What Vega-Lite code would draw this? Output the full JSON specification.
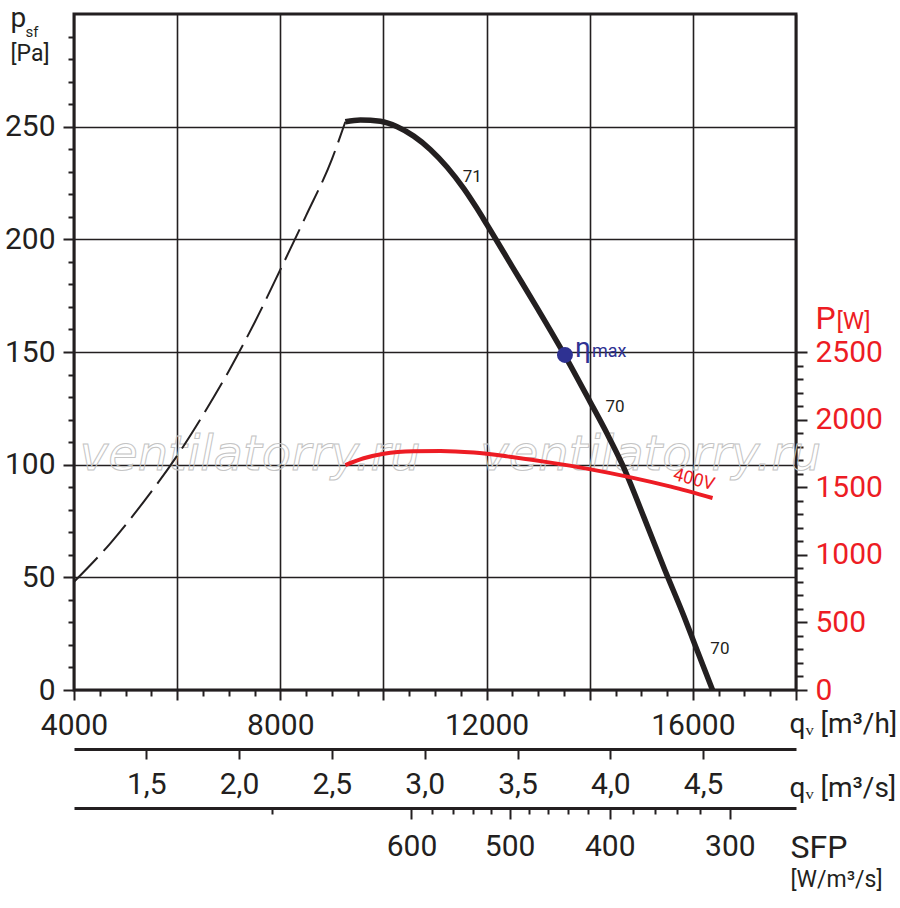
{
  "$schema": "https://vega.github.io/schema/vega-lite/v6.json",
  "description": "Fan curve: static pressure and power against air flow",
  "width": 722,
  "height": 676,
  "autosize": {"type": "none"},
  "padding": {"left": 74, "top": 14, "right": 104, "bottom": 218},
  "background": "white",
  "config": {
    "font": "Roboto",
    "view": {"stroke": "#231f20", "strokeWidth": 3},
    "axis": {
      "labelFont": "Roboto",
      "labelFontSize": 30,
      "labelColor": "#231f20",
      "labelFlush": false,
      "labelOverlap": false,
      "tickColor": "#231f20",
      "tickWidth": 2,
      "domain": false,
      "domainColor": "#231f20",
      "domainWidth": 3,
      "grid": false,
      "gridColor": "#231f20",
      "gridWidth": 1.6,
      "gridOpacity": 1,
      "titleFont": "Roboto",
      "titleFontWeight": "normal",
      "titleColor": "#231f20",
      "titleAngle": 0,
      "titleAlign": "left",
      "titleBaseline": "alphabetic",
      "titlePadding": 0
    }
  },
  "datasets": {
    "dashed": [
      {"q": 4000, "p": 48},
      {"q": 4700, "p": 65},
      {"q": 5350, "p": 83.5},
      {"q": 6000, "p": 104},
      {"q": 6500, "p": 122},
      {"q": 7000, "p": 141.5},
      {"q": 7500, "p": 163},
      {"q": 8000, "p": 186.5},
      {"q": 8500, "p": 210.5},
      {"q": 9000, "p": 235.5},
      {"q": 9262, "p": 252.2}
    ],
    "curve": [
      {"q": 9262, "p": 252.2},
      {"q": 9553, "p": 253.0},
      {"q": 9942, "p": 252.4},
      {"q": 10266, "p": 250.0},
      {"q": 10588, "p": 245.8},
      {"q": 10913, "p": 239.8},
      {"q": 11237, "p": 232.0},
      {"q": 11559, "p": 222.5},
      {"q": 11800, "p": 214.2},
      {"q": 12000, "p": 206.8},
      {"q": 12500, "p": 187.8},
      {"q": 13000, "p": 168.8},
      {"q": 13500, "p": 149.2},
      {"q": 14005, "p": 128},
      {"q": 14343, "p": 113.5},
      {"q": 14634, "p": 100},
      {"q": 15054, "p": 76.5},
      {"q": 15443, "p": 54},
      {"q": 15831, "p": 32.5},
      {"q": 16025, "p": 21},
      {"q": 16382, "p": 0}
    ],
    "power": [
      {"q": 9262, "P": 1664},
      {"q": 9617, "P": 1714},
      {"q": 10006, "P": 1748},
      {"q": 10588, "P": 1766},
      {"q": 11107, "P": 1768},
      {"q": 11754, "P": 1756},
      {"q": 12401, "P": 1728},
      {"q": 13113, "P": 1689},
      {"q": 14019, "P": 1632},
      {"q": 14796, "P": 1573},
      {"q": 15573, "P": 1504},
      {"q": 16382, "P": 1420}
    ],
    "eta": [
      {"q": 13520, "p": 148.7, "sym": "η", "sub": "max"}
    ],
    "curveLabels": [
      {"q": 11722, "p": 227.5, "t": "71"},
      {"q": 14492, "p": 125.7, "t": "70"},
      {"q": 16524, "p": 18, "t": "70"}
    ],
    "voltage": [
      {"q": 16019, "P": 1553, "t": "400V"}
    ],
    "watermark": [
      {"q": 7417, "p": 97.6, "t": "ventilatorry.ru"},
      {"q": 15184, "p": 97.6, "t": "ventilatorry.ru"}
    ]
  },
  "resolve": {
    "scale": {"y": "independent"},
    "axis": {"x": "independent", "y": "independent"}
  },
  "layer": [
    {
      "data": {"name": "watermark"},
      "mark": {
        "type": "text",
        "font": "DejaVu Sans",
        "fontStyle": "italic",
        "fontSize": 48,
        "fill": "transparent",
        "stroke": "#c4c4c4",
        "strokeWidth": 1,
        "align": "center",
        "baseline": "alphabetic"
      },
      "encoding": {
        "x": {"field": "q", "type": "quantitative", "scale": {"domain": [4000, 18000], "nice": false, "zero": false}, "axis": null},
        "y": {"field": "p", "type": "quantitative", "scale": {"domain": [0, 300], "nice": false}, "axis": null},
        "text": {"field": "t"}
      }
    },
    {
      "data": {"name": "dashed"},
      "mark": {"type": "line", "color": "#231f20", "strokeWidth": 2, "strokeDash": [34, 9], "interpolate": "monotone"},
      "encoding": {
        "x": {
          "field": "q", "type": "quantitative",
          "scale": {"domain": [4000, 18000], "nice": false, "zero": false},
          "axis": {
            "orient": "bottom",
            "values": [4000, 6000, 8000, 10000, 12000, 14000, 16000, 18000],
            "labelExpr": "datum.value % 4000 == 0 && datum.value < 18000 ? format(datum.value, 'd') : ''",
            "tickSize": 10,
            "labelPadding": 10,
            "grid": true,
            "title": "qᵥ [m³/h]",
            "titleX": 715,
            "titleY": 42,
            "titleFontSize": 28
          }
        },
        "y": {
          "field": "p", "type": "quantitative",
          "scale": {"domain": [0, 300], "nice": false},
          "axis": {
            "orient": "left",
            "values": [0, 50, 100, 150, 200, 250],
            "tickSize": 11,
            "labelPadding": 8,
            "grid": true,
            "title": "p",
            "titleX": -64,
            "titleY": 12,
            "titleFontSize": 28
          }
        }
      }
    },
    {
      "data": {"name": "curve"},
      "mark": {"type": "line", "color": "#231f20", "strokeWidth": 5.5, "interpolate": "monotone"},
      "encoding": {
        "x": {
          "field": "q", "type": "quantitative",
          "scale": {"domain": [4000, 18000], "nice": false, "zero": false},
          "axis": {
            "orient": "bottom",
            "values": [4500, 5000, 5500, 6500, 7000, 7500, 8500, 9000, 9500, 10500, 11000, 11500, 12500, 13000, 13500, 14500, 15000, 15500, 16500, 17000, 17500],
            "labels": false,
            "tickSize": 6,
            "title": null
          }
        },
        "y": {
          "field": "p", "type": "quantitative",
          "scale": {"domain": [0, 300], "nice": false},
          "axis": {
            "orient": "left",
            "values": [10, 20, 30, 40, 60, 70, 80, 90, 110, 120, 130, 140, 160, 170, 180, 190, 210, 220, 230, 240, 260, 270, 280, 290],
            "labels": false,
            "tickSize": 6,
            "title": "sf",
            "titleX": -49,
            "titleY": 22,
            "titleFontSize": 15
          }
        }
      }
    },
    {
      "data": {"name": "power"},
      "mark": {"type": "line", "color": "#ed1c24", "strokeWidth": 4, "interpolate": "monotone"},
      "encoding": {
        "x": {
          "field": "q", "type": "quantitative",
          "scale": {"domain": [4000, 18000], "nice": false, "zero": false},
          "axis": {
            "orient": "bottom",
            "offset": 59,
            "values": [5400, 7200, 9000, 10800, 12600, 14400, 16200],
            "labelExpr": "replace(format(datum.value / 3600, '.1f'), '.', ',')",
            "tickSize": 10,
            "labelPadding": 10,
            "domain": true,
            "title": "qᵥ [m³/s]",
            "titleX": 715,
            "titleY": 47,
            "titleFontSize": 28
          }
        },
        "y": {
          "field": "P", "type": "quantitative",
          "scale": {"domain": [0, 5000], "nice": false},
          "axis": {
            "orient": "right",
            "values": [0, 500, 1000, 1500, 2000, 2500],
            "format": "d",
            "tickSize": 11,
            "labelPadding": 8,
            "labelColor": "#ed1c24",
            "title": "P",
            "titleX": 19,
            "titleY": 314,
            "titleFontSize": 32,
            "titleColor": "#ed1c24"
          }
        }
      }
    },
    {
      "data": {"name": "voltage"},
      "mark": {"type": "text", "color": "#ed1c24", "fontSize": 18, "angle": 15, "align": "center", "baseline": "middle"},
      "encoding": {
        "x": {
          "field": "q", "type": "quantitative",
          "scale": {"domain": [4000, 18000], "nice": false, "zero": false},
          "axis": {
            "orient": "bottom",
            "offset": 118,
            "values": [7845, 10951, 11340, 11728, 12077, 12815, 13184, 13573, 13961, 14835, 15262, 15689, 16136],
            "labels": false,
            "tickSize": 6,
            "domain": true,
            "title": "[W/m³/s]",
            "titleX": 716,
            "titleY": 78,
            "titleFontSize": 23
          }
        },
        "y": {
          "field": "P", "type": "quantitative",
          "scale": {"domain": [0, 5000], "nice": false},
          "axis": {
            "orient": "right",
            "values": [100, 200, 300, 400, 600, 700, 800, 900, 1100, 1200, 1300, 1400, 1600, 1700, 1800, 1900, 2100, 2200, 2300, 2400],
            "labels": false,
            "tickSize": 7,
            "title": "[W]",
            "titleX": 40,
            "titleY": 314,
            "titleFontSize": 24,
            "titleColor": "#ed1c24"
          }
        },
        "text": {"field": "t"}
      }
    },
    {
      "data": {"name": "curveLabels"},
      "mark": {"type": "text", "color": "#231f20", "fontSize": 17, "align": "center", "baseline": "middle"},
      "encoding": {
        "x": {"field": "q", "type": "quantitative", "scale": {"domain": [4000, 18000], "nice": false, "zero": false}, "axis": null},
        "y": {"field": "p", "type": "quantitative", "scale": {"domain": [0, 300], "nice": false}, "axis": null},
        "text": {"field": "t"}
      }
    },
    {
      "data": {"name": "eta"},
      "mark": {"type": "point", "filled": true, "size": 254, "color": "#2e3192", "opacity": 1},
      "encoding": {
        "x": {
          "field": "q", "type": "quantitative",
          "scale": {"domain": [4000, 18000], "nice": false, "zero": false},
          "axis": {
            "orient": "bottom",
            "offset": 118,
            "values": [10544, 12446, 14388, 16718],
            "labelExpr": "datum.value < 11000 ? '600' : datum.value < 13000 ? '500' : datum.value < 15000 ? '400' : '300'",
            "tickSize": 11,
            "labelPadding": 12,
            "title": "SFP",
            "titleX": 716,
            "titleY": 49,
            "titleFontSize": 32
          }
        },
        "y": {
          "field": "p", "type": "quantitative",
          "scale": {"domain": [0, 300], "nice": false},
          "axis": {
            "orient": "left",
            "ticks": false,
            "labels": false,
            "title": "[Pa]",
            "titleX": -64,
            "titleY": 46,
            "titleFontSize": 23
          }
        }
      }
    },
    {
      "data": {"name": "eta"},
      "mark": {"type": "text", "color": "#2e3192", "fontSize": 28, "align": "left", "baseline": "alphabetic", "dx": 10, "dy": 2},
      "encoding": {
        "x": {"field": "q", "type": "quantitative", "scale": {"domain": [4000, 18000], "nice": false, "zero": false}, "axis": null},
        "y": {"field": "p", "type": "quantitative", "scale": {"domain": [0, 300], "nice": false}, "axis": null},
        "text": {"field": "sym"}
      }
    },
    {
      "data": {"name": "eta"},
      "mark": {"type": "text", "color": "#2e3192", "fontSize": 18, "align": "left", "baseline": "alphabetic", "dx": 27, "dy": 2},
      "encoding": {
        "x": {"field": "q", "type": "quantitative", "scale": {"domain": [4000, 18000], "nice": false, "zero": false}, "axis": null},
        "y": {"field": "p", "type": "quantitative", "scale": {"domain": [0, 300], "nice": false}, "axis": null},
        "text": {"field": "sub"}
      }
    }
  ]
}
